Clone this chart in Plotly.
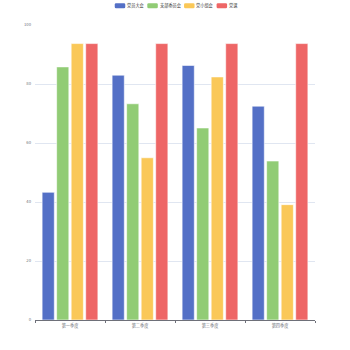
import plotly.graph_objects as go

# Quarterly attendance of the "三会一课" meetings
quarters = ["第一季度", "第二季度", "第三季度", "第四季度"]
series_names = ["党员大会", "支部委员会", "党小组会", "党课"]
dangyuan_dahui = [43.3, 83.0, 86.3, 72.5]
zhibu_weiyuanhui = [85.8, 73.3, 65.1, 53.9]
dang_xiaozu_hui = [93.7, 55.0, 82.4, 39.1]
dangke = [93.7, 93.7, 93.7, 93.7]
y_ticks = [0, 20, 40, 60, 80, 100]

colors = ["#5470c6", "#91cc75", "#fac858", "#ee6666"]
values = [dangyuan_dahui, zhibu_weiyuanhui, dang_xiaozu_hui, dangke]

FONT = "Noto Sans CJK SC"
LABEL_SIZE = 4.2

fig = go.Figure()
for name, vals, col in zip(series_names, values, colors):
    fig.add_trace(go.Bar(
        x=quarters, y=vals, name=name,
        marker=dict(color=col, line=dict(color="rgba(255,255,255,0.6)", width=1)),
        showlegend=False,
    ))

# plot area geometry in pixels (used for the hand-drawn legend)
L, R, T, B = 35, 35, 25.3, 29.7
W = 350 - L - R
H = 350 - T - B


def px_x(px):
    return (px - L) / W


def px_y(py):
    return (350 - B - py) / H


def round_rect(x0, y0, x1, y1, r):
    # rounded rectangle path in paper units, from pixel corners
    a, b, c, d = px_x(x0), px_x(x1), px_y(y0), px_y(y1)
    rx, ry = r / W, r / H
    return (f"M{a+rx},{c} L{b-rx},{c} Q{b},{c} {b},{c-ry} "
            f"L{b},{d+ry} Q{b},{d} {b-rx},{d} L{a+rx},{d} "
            f"Q{a},{d} {a},{d+ry} L{a},{c-ry} Q{a},{c} {a+rx},{c} Z")


# horizontal legend centred at the top
ICON_W, ICON_H, TEXT_PAD, ITEM_GAP = 10.5, 5.0, 1.75, 3.5
widths = [ICON_W + TEXT_PAD + LABEL_SIZE * len(n) for n in series_names]
total = sum(widths) + ITEM_GAP * (len(series_names) - 1)
cx = 176 - total / 2
cy = 6.0
shapes = []
annotations = []
for name, col, w in zip(series_names, colors, widths):
    shapes.append(dict(type="path", xref="paper", yref="paper",
                       path=round_rect(cx, cy - ICON_H / 2, cx + ICON_W, cy + ICON_H / 2, 1.3),
                       fillcolor=col, line=dict(width=0), layer="above"))
    annotations.append(dict(xref="paper", yref="paper",
                            x=px_x(cx + ICON_W + TEXT_PAD), y=px_y(cy),
                            text=name, showarrow=False, xanchor="left", yanchor="middle",
                            borderpad=0, borderwidth=0,
                            font=dict(family=FONT, size=LABEL_SIZE, color="#333333")))
    cx += w + ITEM_GAP

fig.update_layout(
    width=350, height=350,
    margin=dict(l=L, r=R, t=T, b=B, pad=0),
    paper_bgcolor="white", plot_bgcolor="white",
    barmode="group", bargap=0.17, bargroupgap=0.16,
    shapes=shapes, annotations=annotations,
    font=dict(family=FONT, size=LABEL_SIZE, color="#6E7079"),
    xaxis=dict(
        showline=True, linecolor="#6E7079", linewidth=1,
        ticks="outside", ticklen=2, tickcolor="#6E7079", tickson="boundaries",
        ticklabelstandoff=1,
        tickfont=dict(family=FONT, size=LABEL_SIZE, color="#6E7079"),
        showgrid=False, zeroline=False, fixedrange=True,
    ),
    yaxis=dict(
        range=[0, 100], tickvals=y_ticks, ticktext=[str(v) for v in y_ticks],
        showgrid=True, gridcolor="#E0E6F1", gridwidth=1,
        showline=False, zeroline=False, ticks="", ticklabelstandoff=3,
        tickfont=dict(family=FONT, size=LABEL_SIZE, color="#6E7079"),
    ),
)

fig.write_html("out.html")
